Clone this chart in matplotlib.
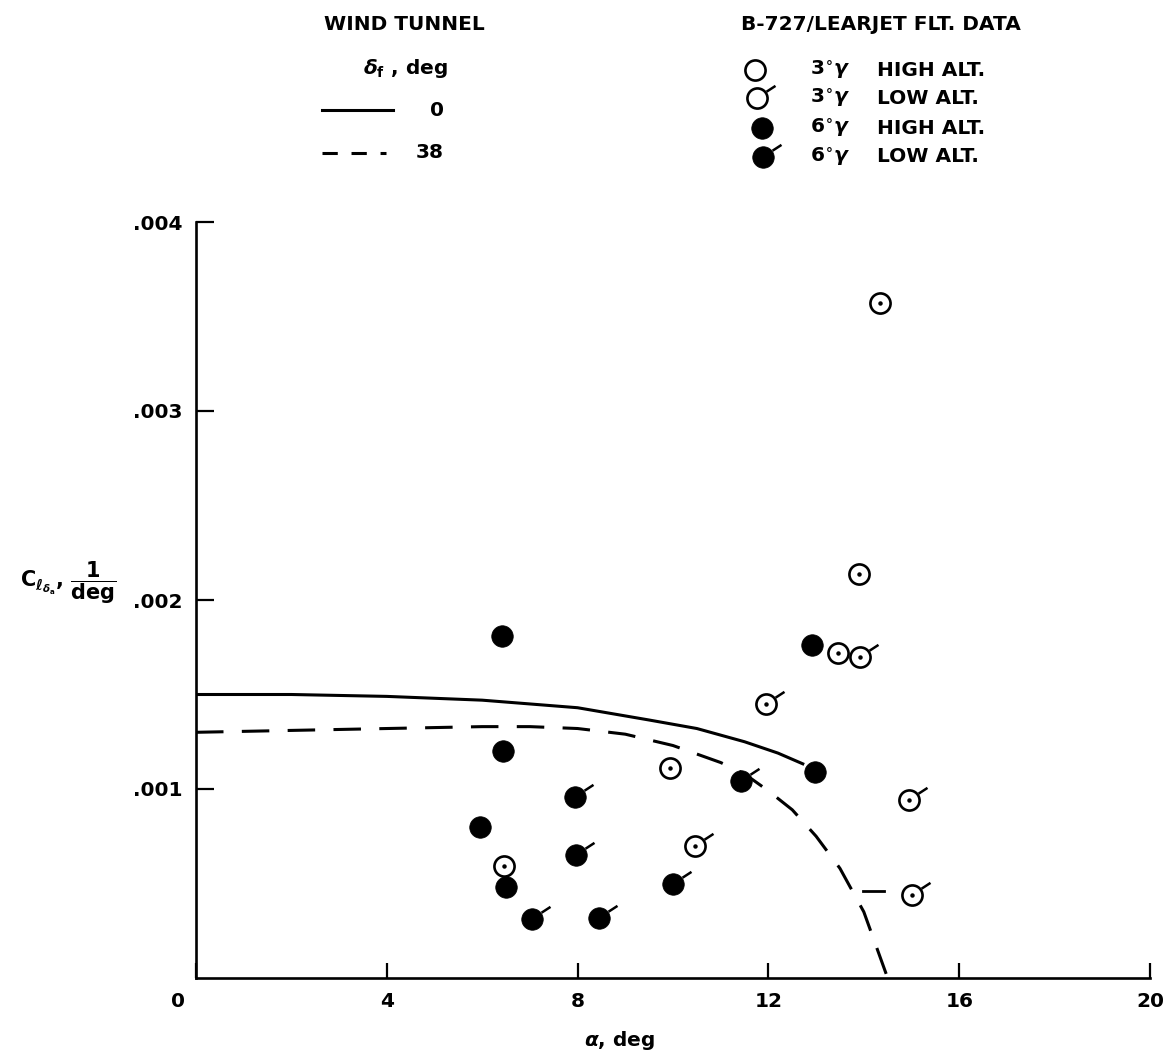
import numpy as np
import matplotlib
matplotlib.use("Agg")
import matplotlib.pyplot as plt
from matplotlib.path import Path
from matplotlib.transforms import ScaledTranslation

# ---- data --------------------------------------------------------------
# wind tunnel curves
wt0_x = [0, 2, 4, 6, 8, 9.5, 10.5, 11.5, 12.2, 12.75]
wt0_y = [0.00150, 0.00150, 0.00149, 0.00147, 0.00143, 0.001365, 0.00132, 0.00125, 0.00119, 0.00113]
wt38_x = [0, 2, 4, 6, 7, 8, 9, 10, 11, 11.5, 12, 12.5, 13, 13.5, 14, 14.5]
wt38_y = [0.00130, 0.00131, 0.00132, 0.00133, 0.00133, 0.00132, 0.00129, 0.00123,
          0.00114, 0.00108, 0.00099, 0.00089, 0.00075, 0.00058, 0.00035, 0.0]
stub_x = [13.98, 14.42]
stub_y = [0.00046, 0.00046]

# flight data
hi3_x = [14.35, 13.9, 13.45, 9.93, 6.46]
hi3_y = [0.00357, 0.00214, 0.00172, 0.00111, 0.00059]
lo3_x = [13.92, 11.95, 10.46, 14.95, 15.0]
lo3_y = [0.00170, 0.00145, 0.00070, 0.00094, 0.00044]
hi6_x = [6.42, 12.92, 6.44, 5.95, 6.5, 12.98]
hi6_y = [0.00181, 0.00176, 0.00120, 0.00080, 0.00048, 0.00109]
lo6_x = [7.95, 7.97, 7.04, 8.45, 10.0, 11.42]
lo6_y = [0.00096, 0.00065, 0.00031, 0.00032, 0.00050, 0.00104]

xticks = [0, 4, 8, 12, 16, 20]
yticks = [0.001, 0.002, 0.003, 0.004]
ytick_labels = ['.001', '.002', '.003', '.004']

# ---- style ---------------------------------------------------------------
plt.rcParams['font.family'] = ['DejaVu Sans']
plt.rcParams['font.weight'] = 'bold'
plt.rcParams['mathtext.fontset'] = 'dejavusans'
FS = 14.5
MS = 14.5
# little flag that marks the "low alt." points
flag = Path([(0.8, 0.6), (1.6, 1.12)], [Path.MOVETO, Path.LINETO])
FLAG_MS = (MS + 1.7) * 1.6

W, H = 1168, 1054
fig = plt.figure(figsize=(W / 100, H / 100), dpi=100)
ax = fig.add_axes([196 / W, 1 - 978 / H, (1150 - 196) / W, (978 - 222) / H])

ax.plot(wt0_x, wt0_y, color='black', lw=2.2, solid_capstyle='butt')
ax.plot(wt38_x, wt38_y, color='black', lw=2.2, linestyle=(0, (9, 6)))
ax.plot(stub_x, stub_y, color='black', lw=2.0)

def open_pts(a, x, y, ms=MS, dot=True):
    a.plot(x, y, 'o', ms=ms, mfc='white', mec='black', mew=1.9, ls='none', zorder=3)
    if dot:
        a.plot(x, y, 'o', ms=2.2, mfc='black', mec='black', ls='none', zorder=4)

def filled_pts(a, x, y, ms=MS):
    a.plot(x, y, 'o', ms=ms + 1, mfc='black', mec='black', mew=0.5, ls='none', zorder=3)

def flags(a, x, y):
    a.plot(x, y, marker=flag, ms=FLAG_MS, mec='black', mfc='none', mew=1.8,
           ls='none', zorder=4)

open_pts(ax, hi3_x, hi3_y)
open_pts(ax, lo3_x, lo3_y)
flags(ax, lo3_x, lo3_y)
filled_pts(ax, hi6_x, hi6_y)
filled_pts(ax, lo6_x, lo6_y)
flags(ax, lo6_x, lo6_y)

ax.set_xlim(0, 20)
ax.set_ylim(0, 0.004)
for s in ['top', 'right']:
    ax.spines[s].set_visible(False)
for s in ['left', 'bottom']:
    ax.spines[s].set_linewidth(1.9)
ax.set_xticks(xticks)
ax.set_xticklabels([str(t) for t in xticks])
ax.set_yticks(yticks)
ax.set_yticklabels(ytick_labels)
ax.tick_params(axis='x', direction='in', length=11, width=1.6, pad=10, labelsize=FS)
ax.tick_params(axis='y', direction='in', length=13, width=1.6, pad=10, labelsize=FS)
# the "0" sits left of the corner
lab0 = ax.get_xticklabels()[0]
lab0.set_transform(lab0.get_transform() + ScaledTranslation(-18 / 100, 0, fig.dpi_scale_trans))

fig.text(620 / W, 1 - 1040 / H, r'$\alpha$, deg', ha='center', va='center', fontsize=FS)
fig.text(20 / W, 1 - 583 / H,
         r'$\mathbf{C}_{\ell_{\delta_{\mathbf{a}}}}$, $\dfrac{\mathbf{1}}{\mathbf{deg}}$',
         ha='left', va='center', fontsize=15)

# ---- legends (drawn in pixel space on an overlay) -----------------------
ov = fig.add_axes([0, 0, 1, 1])
ov.set_xlim(0, W)
ov.set_ylim(H, 0)
ov.axis('off')

ov.text(404, 25, 'WIND TUNNEL', ha='center', va='center', fontsize=FS)
ov.text(405, 68, r'$\delta_{\mathbf{f}}$ , deg', ha='center', va='center', fontsize=FS)
ov.plot([322, 393], [110, 110], color='black', lw=2.2)
ov.plot([322, 386], [153, 153], color='black', lw=2.2, linestyle=(0, (5, 4.5)))
ov.text(444, 110, '0', ha='right', va='center', fontsize=FS)
ov.text(444, 153, '38', ha='right', va='center', fontsize=FS)

ov.text(881, 25, 'B-727/LEARJET FLT. DATA', ha='center', va='center', fontsize=FS)
leg_y = [70, 98, 128, 157]
leg_x = [755, 757, 762, 763]
leg_deg = [r'3$^{\circ}\gamma$', r'3$^{\circ}\gamma$', r'6$^{\circ}\gamma$', r'6$^{\circ}\gamma$']
leg_alt = ['HIGH ALT.', 'LOW ALT.', 'HIGH ALT.', 'LOW ALT.']
open_pts(ov, [leg_x[0]], [leg_y[0]], dot=False)
open_pts(ov, [leg_x[1]], [leg_y[1]], dot=False)
flags(ov, [leg_x[1]], [leg_y[1]])
filled_pts(ov, [leg_x[2]], [leg_y[2]])
filled_pts(ov, [leg_x[3]], [leg_y[3]])
flags(ov, [leg_x[3]], [leg_y[3]])
for yy, d, t in zip(leg_y, leg_deg, leg_alt):
    ov.text(810, yy, d, ha='left', va='center', fontsize=FS)
    ov.text(877, yy, t, ha='left', va='center', fontsize=FS)

fig.savefig('out.png', dpi=100)
